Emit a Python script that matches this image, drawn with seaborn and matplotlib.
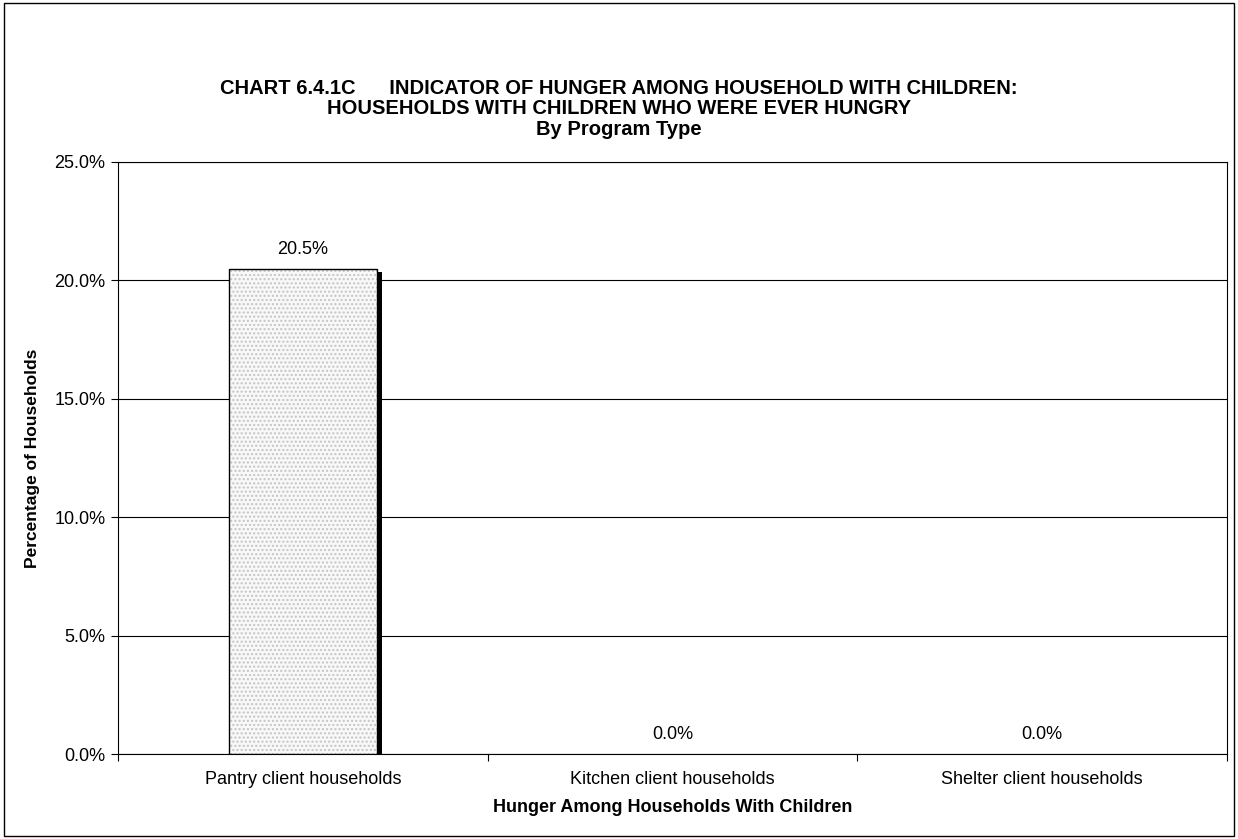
import pandas as pd
import seaborn as sns
import matplotlib.pyplot as plt
from matplotlib.patches import Rectangle
from matplotlib.ticker import FuncFormatter, FixedLocator

categories = ["Pantry client households", "Kitchen client households", "Shelter client households"]
values = [20.5, 0.0, 0.0]
title_lines = ["CHART 6.4.1C      INDICATOR OF HUNGER AMONG HOUSEHOLD WITH CHILDREN:",
               "HOUSEHOLDS WITH CHILDREN WHO WERE EVER HUNGRY",
               "By Program Type"]

data = pd.DataFrame({"cat": categories, "pct": values})

sns.set_theme(style="white")
plt.rcParams['font.family'] = ['Liberation Sans', 'DejaVu Sans']
plt.rcParams['hatch.linewidth'] = 1.0
for k in ['text.color', 'axes.labelcolor', 'xtick.color', 'ytick.color']:
    plt.rcParams[k] = 'black'

fig = plt.figure(figsize=(12.38, 8.39), dpi=100)
ax = fig.add_axes([0.0953, 0.1013, 0.8957, 0.7057])

sns.barplot(x="cat", y="pct", data=data, color="#f8f8f8", width=0.4,
            edgecolor="#c4c4c4", linewidth=0, ax=ax, zorder=3)
for p in list(ax.patches):
    if p.get_height() > 0:
        # hatch colour follows the edge colour, so draw the black outline separately
        p.set_hatch("....")
        p.set_edgecolor("#c4c4c4")
        p.set_linewidth(0)
        ax.add_patch(Rectangle((p.get_x(), 0), p.get_width(), p.get_height(),
                               fill=False, edgecolor="black", linewidth=1, zorder=4))
        # shadow on the right side
        ax.add_patch(Rectangle((p.get_x() + p.get_width(), 0), 0.013, p.get_height() - 0.15,
                               facecolor="black", edgecolor="none", zorder=4))

ax.set_ylim(0, 25)
ax.set_xlim(-0.5, 2.5)
ax.yaxis.set_major_locator(FixedLocator([0, 5, 10, 15, 20, 25]))
ax.yaxis.set_major_formatter(FuncFormatter(lambda v, _: f"{v:.1f}%"))
ax.grid(axis="y", color="black", linewidth=0.8, zorder=0)
ax.set_axisbelow(True)

for s in ax.spines.values():
    s.set_color("black")
    s.set_linewidth(0.8)
    s.set_visible(True)

ax.set_xticks([0, 1, 2])
ax.set_xticklabels(categories, fontsize=13)
ax.set_xticks([-0.5, 0.5, 1.5, 2.5], minor=True)
ax.tick_params(axis="x", which="major", length=0, pad=12)
ax.tick_params(axis="x", which="minor", length=5, width=0.8, color="black", direction="out", bottom=True)
ax.tick_params(axis="y", length=5, width=0.8, color="black", direction="out", labelsize=13, left=True, pad=4)

for i, v in enumerate(values):
    ax.text(i, v + 0.45, f"{v:.1f}%", ha="center", va="bottom", fontsize=13)

ax.set_xlabel("Hunger Among Households With Children", fontsize=13, fontweight="bold", labelpad=8)
ax.set_ylabel("Percentage of Households", fontsize=12.5, fontweight="bold", labelpad=10)

ys = [0.895, 0.871, 0.846]
for t, y in zip(title_lines, ys):
    fig.text(0.5, y, t, ha="center", va="center", fontsize=14.5, fontweight="bold")

fig.patches.append(Rectangle((0.003, 0.004), 0.994, 0.992, transform=fig.transFigure,
                             fill=False, edgecolor="black", linewidth=1))

plt.savefig("out.png", dpi=100)
